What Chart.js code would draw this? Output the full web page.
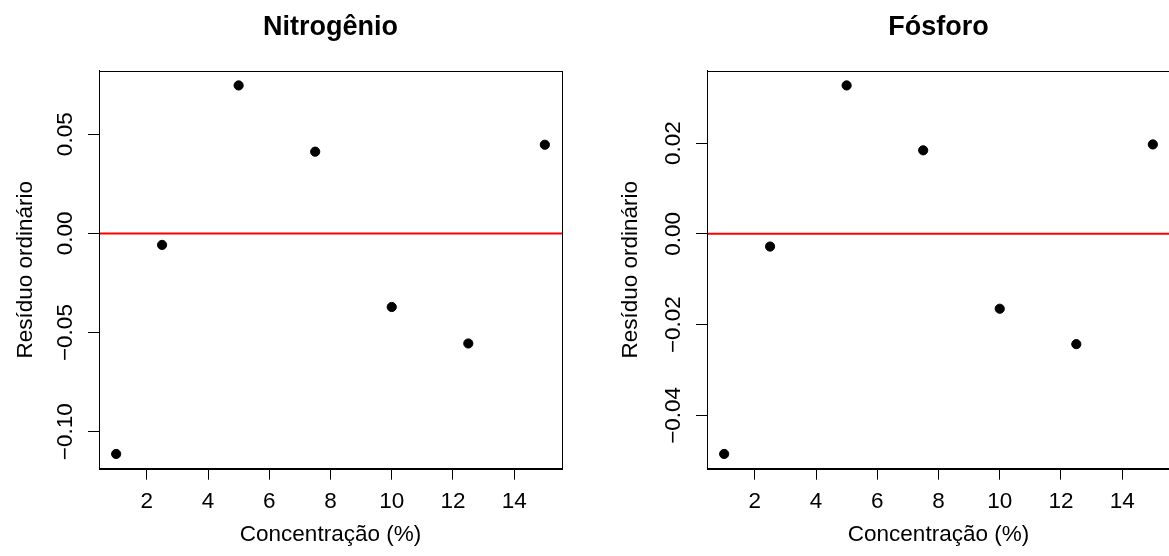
<!DOCTYPE html>
<html>
<head>
<meta charset="utf-8">
<script src="https://cdn.jsdelivr.net/npm/chart.js@4.4.0/dist/chart.umd.min.js"></script>
<style>
  html, body { margin: 0; padding: 0; background: #fff; }
  #wrap { position: relative; width: 1169px; height: 556px; overflow: hidden; }
  canvas { position: absolute; top: 0; }
</style>
</head>
<body>
<div id="wrap">
  <canvas id="chartN" width="584" height="556" style="left:0px"></canvas>
  <canvas id="chartP" width="584" height="556" style="left:608px"></canvas>
</div>
<script>
// Concentration levels (x axis)
const concentracao = [1, 2.5, 5, 7.5, 10, 12.5, 15];

// Ordinary residuals
const residuoN = [-0.1112, -0.0058, 0.0746, 0.0412, -0.0371, -0.0555, 0.0447];
const residuoP = [-0.0485, -0.0028, 0.0327, 0.0184, -0.0165, -0.0243, 0.0197];

// Panel titles and axis texts
const titulos = ['Nitrogênio', 'Fósforo'];
const rotuloX = 'Concentração (%)';
const rotuloY = 'Resíduo ordinário';

Chart.defaults.font.family = "'Liberation Sans', Arial, Helvetica, sans-serif";
Chart.defaults.font.size = 22.5;
Chart.defaults.color = '#000';

// R style axis range: data range plus 4% on each side
function rRange(values) {
  const lo = Math.min(...values), hi = Math.max(...values);
  const pad = (hi - lo) * 0.04;
  return [lo - pad, hi + pad];
}

// Draws the full box around the plotting region, like R's box()
const boxPlugin = {
  id: 'rbox',
  afterDraw(chart) {
    const a = chart.chartArea;
    const c = chart.ctx;
    c.save();
    c.strokeStyle = '#000';
    c.lineWidth = 1;
    c.strokeRect(Math.round(a.left) + 0.5, Math.round(a.top) + 0.5,
                 Math.round(a.right - a.left), Math.round(a.bottom - a.top));
    c.restore();
  }
};

function fmtY(v) {
  if (Math.abs(v) < 1e-9) return '0.00';
  return v.toFixed(2).replace('-', '\u2212');
}

function createChart(id, title, residuals, step, yTitlePad) {
  const [xMin, xMax] = rRange(concentracao);
  const [yMin, yMax] = rRange(residuals);

  return new Chart(document.getElementById(id), {
    type: 'scatter',
    data: {
      datasets: [{
        data: concentracao.map((x, i) => ({ x: x, y: residuals[i] })),
        backgroundColor: '#000',
        borderColor: '#000',
        pointRadius: 4.6,
        pointHoverRadius: 4.6,
        order: 1
      }, {
        // abline(h = 0)
        type: 'line',
        data: [{ x: xMin, y: 0 }, { x: xMax, y: 0 }],
        borderColor: '#ff0000',
        borderWidth: 2,
        pointRadius: 0,
        order: 2
      }]
    },
    options: {
      responsive: false,
      animation: false,
      layout: { padding: { top: 0, left: 0, bottom: 0, right: 22 } },
      plugins: {
        legend: { display: false },
        tooltip: { enabled: false },
        title: {
          display: true,
          text: title,
          fullSize: false,
          font: { size: 27, weight: 'bold' },
          padding: { top: 11.4, bottom: 26.9 }
        }
      },
      scales: {
        x: {
          type: 'linear',
          min: xMin,
          max: xMax,
          grid: { drawOnChartArea: false, drawTicks: true, tickLength: 11, color: '#000' },
          border: { display: true, color: '#000', width: 1 },
          ticks: { stepSize: 2, includeBounds: false, padding: 9, maxRotation: 0 },
          title: { display: true, text: rotuloX, padding: { top: 0, bottom: 8 } },
          afterFit(scale) { scale.height = 87.3; }
        },
        y: {
          type: 'linear',
          min: yMin,
          max: yMax,
          grid: { drawOnChartArea: false, drawTicks: true, tickLength: 11, color: '#000' },
          border: { display: true, color: '#000', width: 1 },
          ticks: {
            stepSize: step,
            includeBounds: false,
            minRotation: 90,
            maxRotation: 90,
            crossAlign: 'center',
            padding: -6,
            callback: fmtY
          },
          title: { display: true, text: rotuloY, padding: { top: yTitlePad, bottom: 0 } },
          afterFit(scale) { scale.width = 99; }
        }
      }
    },
    plugins: [boxPlugin]
  });
}

createChart('chartN', titulos[0], residuoN, 0.05, 12);
createChart('chartP', titulos[1], residuoP, 0.02, 9);
</script>
</body>
</html>
